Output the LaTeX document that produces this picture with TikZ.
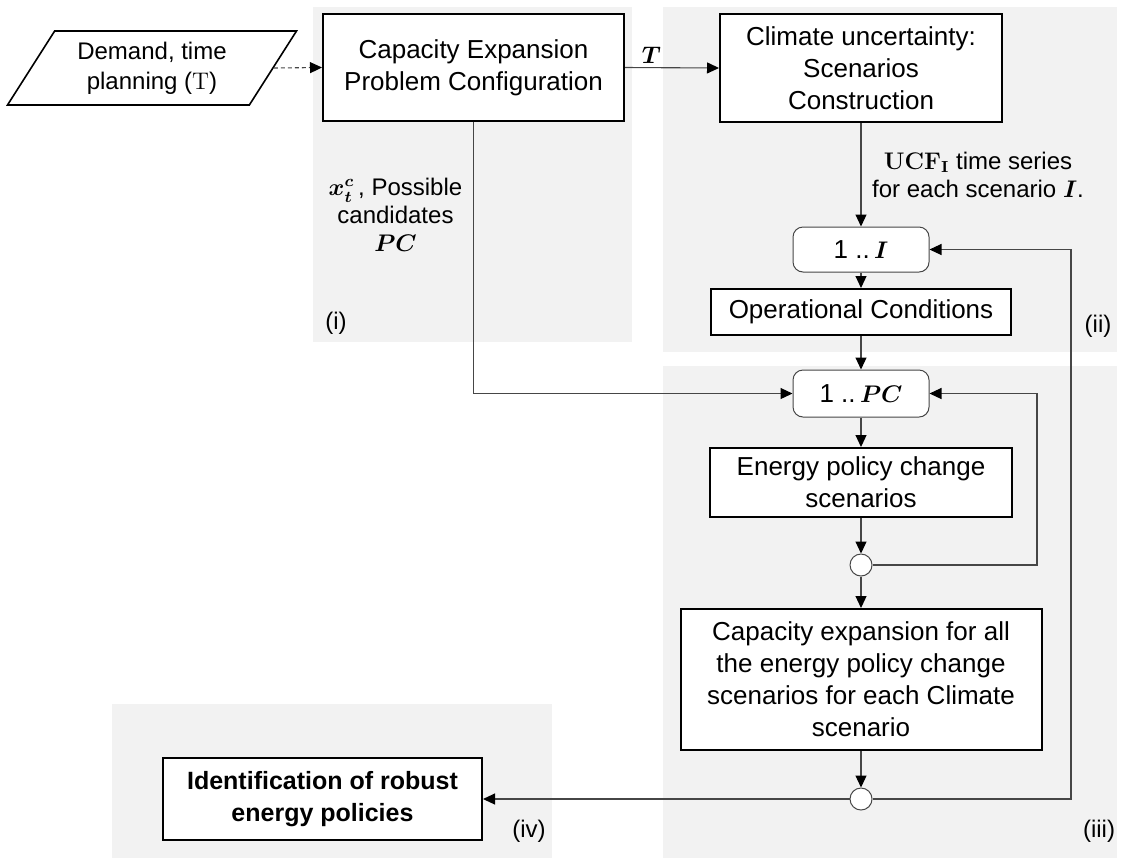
\documentclass[tikz,border=0pt]{standalone}
\usepackage[no-math]{fontspec}
\setmainfont{Liberation Sans}
\usepackage{amsmath}
\usetikzlibrary{arrows.meta,shapes.geometric}

\definecolor{panelgray}{RGB}{242,242,242}
\definecolor{linegray}{RGB}{70,70,70}
\tikzset{
  stepbox/.style = {draw, line width=1pt, fill=white, align=center, inner sep=2pt,
                    font=\fontsize{13}{16}\selectfont},
  loopbox/.style = {draw=linegray, line width=0.5pt, rounded corners=5pt, fill=white,
                    font=\fontsize{13}{16}\selectfont},
  joint/.style   = {circle, draw=linegray, line width=0.5pt, fill=white, minimum size=11pt, inner sep=0pt},
  flow/.style    = {draw=linegray, line width=0.55pt, -{Triangle[length=6pt,width=5.5pt,color=black]}},
  panel/.style   = {fill=panelgray, draw=none},
  tag/.style     = {font=\fontsize{12}{14}\selectfont},
  note/.style    = {align=center, font=\fontsize{12}{14}\selectfont}
}

\begin{document}
\begin{tikzpicture}[x=0.5pt, y=-0.5pt]
    \useasboundingbox (0,0) rectangle (1122,858);

    % shaded panels
    \fill[panel] (313,7) rectangle (632,342);
    \fill[panel] (663,7) rectangle (1117,352);
    \fill[panel] (663,366) rectangle (1117,858);
    \fill[panel] (112,704) rectangle (552,858);
    \node[tag](tagI) at (336,323) {(i)};
    \node[tag](tagII) at (1098,326) {(ii)};
    \node[tag](tagIII) at (1099,831) {(iii)};
    \node[tag](tagIV) at (529,831) {(iv)};

    % boxes
    \node[stepbox, trapezium, trapezium left angle=52, trapezium right angle=128, trapezium stretches body,
          minimum width=144.5pt, minimum height=37pt, line width=0.8pt,
          font=\fontsize{12}{15}\selectfont](demand) at (152,68) {Demand, time\\planning ($\mathrm{T}$)};
    \node[stepbox, minimum width=150.5pt, minimum height=53.5pt](capConfig) at (473.5,67.5) {Capacity Expansion\\Problem Configuration};
    \node[stepbox, minimum width=141pt, minimum height=54pt](climate) at (861,68) {Climate uncertainty:\\Scenarios\\Construction};
    \node[loopbox, minimum width=68pt, minimum height=22.5pt](loopI) at (861,249.5) {1 ..\,$\boldsymbol{I}$};
    \node[stepbox, minimum width=150pt, minimum height=23pt](operCond) at (861,312) {Operational Conditions};
    \node[loopbox, minimum width=68pt, minimum height=23.5pt](loopPC) at (861,393.5) {1 ..\,$\boldsymbol{PC}$};
    \node[stepbox, minimum width=151pt, minimum height=34.5pt](policy) at (861,482.5) {Energy policy change\\scenarios};
    \node[joint](jointA) at (861,565) {};
    \node[stepbox, minimum width=180.5pt, minimum height=70.5pt](expansion) at (861,679.5) {Capacity expansion for all\\the energy policy change\\scenarios for each Climate\\scenario};
    \node[joint](jointB) at (861,799) {};
    \node[stepbox, minimum width=159.5pt, minimum height=41pt, font=\fontsize{12.5}{16}\selectfont\bfseries](robust) at (322.5,799) {Identification of robust\\energy policies};

    \coordinate (cornerPC) at (1037,393.5);
    \coordinate (cornerI) at (1071,249.5);

    % connectors
    \draw[flow, dashed, dash pattern=on 2pt off 1.5pt] (demand.east) -- (capConfig.west);
    \draw[flow] (capConfig.east) -- node[note, pos=0.28, above, inner sep=2pt]{$\boldsymbol{T}$} (climate.west);
    \draw[flow] (climate.south) -- node[note, right=2pt]{$\mathbf{UCF}_{\mathbf{I}}$ time series\\for each scenario $\boldsymbol{I}$.} (loopI.north);
    \draw[flow] (capConfig.south) |- node[note, pos=0.17, left=2pt]{$\boldsymbol{x_t^c}$\,, Possible\\candidates\\$\boldsymbol{PC}$} (loopPC.west);
    \draw[flow] (loopI) -- (operCond);
    \draw[flow] (operCond) -- (loopPC);
    \draw[flow] (loopPC) -- (policy);
    \draw[flow] (policy) -- (jointA);
    \draw[flow] (jointA.east) -| (cornerPC) -- (loopPC.east);
    \draw[flow] (jointA) -- (expansion);
    \draw[flow] (expansion) -- (jointB);
    \draw[flow] (jointB.east) -| (cornerI) -- (loopI.east);
    \draw[flow] (jointB.west) -- (robust.east);
\end{tikzpicture}
\end{document}
